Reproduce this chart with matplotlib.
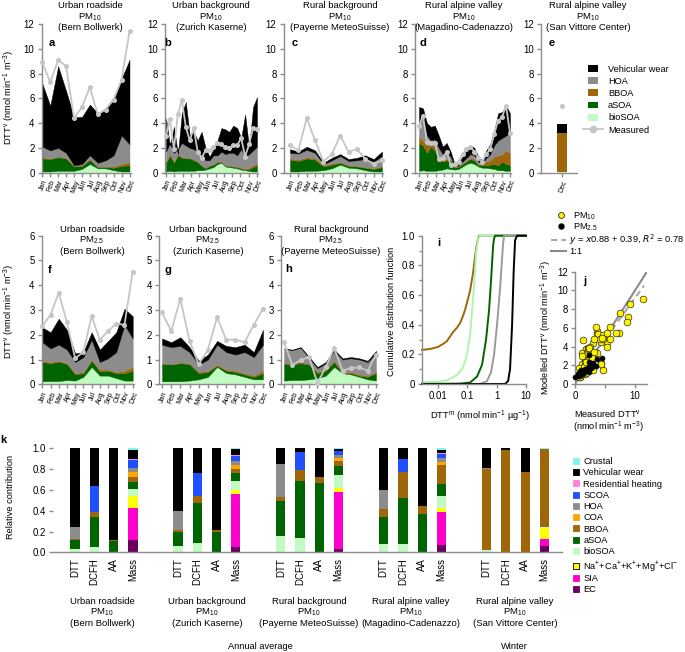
import numpy as np
import matplotlib
matplotlib.use('Agg')
import matplotlib.pyplot as plt
from matplotlib.patches import Rectangle
from matplotlib.ticker import MultipleLocator, NullLocator, FormatStrFormatter

plt.rcParams['font.family'] = ['Liberation Sans', 'DejaVu Sans']
plt.rcParams['mathtext.default'] = 'regular'
plt.rcParams['font.size'] = 6.7

W, H = 685, 652

months = ['Jan', 'Feb', 'Mar', 'Apr', 'May', 'Jun', 'Jul', 'Aug', 'Sep', 'Oct', 'Nov', 'Dec']

# ---- a-h: cumulative layer tops (bioSOA, aSOA, BBOA, HOA, vehicular wear) and measured DTTv
a_bio = [0.1, 0.1, 0.15, 0.15, 0.15, 0.3, 0.7, 0.35, 0.35, 0.2, 0.1, 0.1]
a_asoa = [1.15, 1.1, 1.25, 1.15, 0.5, 0.55, 1.05, 0.45, 0.45, 0.4, 0.55, 0.6]
a_bboa = [1.25, 1.15, 1.3, 1.2, 0.55, 0.6, 1.1, 0.5, 0.5, 0.5, 0.7, 0.85]
a_hoa = [2.1, 1.8, 2.0, 1.6, 0.6, 0.7, 1.4, 0.8, 1.0, 1.4, 3.0, 2.3]
a_veh = [7.2, 5.4, 8.6, 6.6, 4.5, 4.5, 5.5, 4.8, 5.2, 6.1, 7.6, 9.1]
a_meas = [8.9, 7.3, 9.1, 8.6, 4.4, 5.3, 6.9, 4.7, 5.1, 5.9, 7.5, 11.4]

b_bio = [0.1, 0.15, 0.1, 0.15, 0.15, 0.15, 0.15, 0.15, 0.2, 0.2, 0.25, 0.35, 0.45, 0.7, 0.8, 0.5,
         0.45, 0.4, 0.35, 0.25, 0.2, 0.15, 0.1, 0.1]
b_asoa = [0.8, 1.4, 0.8, 1.4, 1.2, 1.15, 1.15, 1.0, 0.85, 0.55, 0.35, 0.55, 0.65, 0.85, 0.85, 0.55,
          0.55, 0.5, 0.45, 0.35, 0.25, 0.3, 0.45, 0.6]
b_bboa = [0.9, 1.5, 0.9, 1.5, 1.3, 1.2, 1.2, 1.1, 0.9, 0.6, 0.4, 0.6, 0.7, 0.9, 0.9, 0.6,
          0.6, 0.5, 0.5, 0.4, 0.3, 0.4, 0.6, 0.75]
b_hoa = [1.7, 2.4, 1.6, 1.9, 2.4, 2.2, 2.0, 1.9, 1.7, 1.4, 1.0, 1.0, 1.4, 1.4, 1.7, 1.5,
         1.6, 1.6, 1.4, 1.9, 1.3, 1.5, 1.8, 2.1]
b_veh = [4.4, 2.2, 3.7, 1.5, 4.8, 5.7, 3.0, 3.3, 2.6, 3.3, 2.0, 1.3, 1.9, 2.6, 3.6, 3.5,
         3.3, 3.8, 3.6, 2.8, 4.7, 2.0, 5.3, 6.1]
b_meas = [3.0, 4.3, 1.9, 4.7, 5.9, 3.7, 2.6, 3.6, 1.7, 1.2, 1.8, 1.8, 2.1, 2.4, 2.3, 2.1,
          2.0, 2.2, 2.2, 2.8, 1.3, 2.3, 3.6, 3.5]

c_bio = [0.1, 0.1, 0.15, 0.15, 0.2, 0.35, 0.65, 0.4, 0.35, 0.2, 0.1, 0.1]
c_asoa = [1.05, 0.95, 1.15, 1.05, 0.5, 0.65, 0.8, 0.55, 0.5, 0.4, 0.3, 0.45]
c_bboa = [1.15, 1.05, 1.25, 1.15, 0.6, 0.75, 0.85, 0.6, 0.55, 0.45, 0.35, 0.55]
c_hoa = [1.6, 1.55, 1.85, 1.6, 0.7, 1.0, 1.35, 0.95, 1.0, 1.1, 0.9, 1.35]
c_veh = [1.9, 1.7, 2.1, 1.8, 0.8, 1.2, 1.5, 1.1, 1.2, 1.4, 1.1, 1.7]
c_meas = [2.2, 1.8, 4.4, 2.6, 0.9, 1.5, 3.0, 1.7, 1.9, 1.1, 0.7, 1.0]

d_bio = [0.15, 0.2, 0.15, 0.15, 0.15, 0.2, 0.25, 0.35, 0.3, 0.25, 0.3, 0.5, 0.7, 0.8, 0.7, 0.5,
         0.4, 0.4, 0.35, 0.3, 0.2, 0.2, 0.15, 0.15]
d_asoa = [2.4, 2.2, 1.6, 2.1, 1.8, 1.0, 0.9, 1.0, 1.0, 0.4, 0.5, 0.7, 0.9, 1.1, 1.0, 0.6,
          0.6, 0.6, 0.65, 0.7, 0.6, 0.9, 0.7, 0.6]
d_bboa = [2.9, 2.6, 2.2, 2.3, 2.2, 1.2, 1.1, 1.1, 1.1, 0.45, 0.55, 0.75, 1.0, 1.2, 1.1, 0.7,
          0.7, 0.9, 1.0, 1.3, 1.4, 1.5, 1.8, 1.6]
d_hoa = [4.0, 4.4, 3.0, 2.6, 2.7, 2.0, 1.5, 1.6, 1.3, 0.5, 0.6, 0.9, 1.2, 1.5, 1.4, 0.9,
         0.8, 1.2, 1.5, 2.2, 2.6, 2.8, 3.0, 3.2]
d_veh = [5.3, 5.2, 4.0, 3.7, 3.8, 3.0, 2.1, 2.4, 1.7, 0.7, 0.8, 1.3, 1.8, 2.2, 2.0, 1.3,
         1.0, 1.8, 2.3, 3.4, 4.8, 4.9, 5.4, 4.8]
d_meas = [3.8, 4.6, 2.5, 2.4, 2.4, 1.1, 1.2, 1.7, 0.6, 0.7, 0.9, 1.5, 1.9, 2.1, 1.7, 1.2,
          0.9, 1.5, 1.9, 3.1, 4.2, 4.5, 5.4, 3.2]

e_tops = [0.05, 0.07, 3.2, 3.22, 3.95]
e_meas = [5.35]

f_bio = [0.12, 0.13, 0.13, 0.17, 0.15, 0.3, 0.7, 0.35, 0.35, 0.25, 0.15, 0.15]
f_asoa = [0.9, 0.85, 0.92, 0.82, 0.4, 0.45, 0.95, 0.52, 0.55, 0.45, 0.45, 0.55]
f_bboa = [0.95, 0.9, 0.95, 0.85, 0.45, 0.5, 1.0, 0.6, 0.6, 0.5, 0.55, 0.7]
f_hoa = [1.7, 1.45, 1.6, 1.4, 0.9, 1.1, 1.8, 0.9, 1.05, 1.3, 2.4, 1.85]
f_veh = [2.3, 2.1, 2.65, 2.2, 1.25, 1.3, 2.1, 1.4, 1.75, 2.1, 3.05, 2.75]
f_meas = [2.35, 2.8, 3.7, 2.5, 1.05, 1.3, 2.75, 1.8, 2.15, 2.45, 2.4, 4.55]

g_bio = [0.12, 0.12, 0.12, 0.15, 0.2, 0.3, 0.7, 0.45, 0.4, 0.3, 0.2, 0.2]
g_asoa = [0.82, 0.8, 0.85, 0.82, 0.45, 0.5, 0.75, 0.55, 0.5, 0.4, 0.3, 0.45]
g_bboa = [0.85, 0.82, 0.88, 0.85, 0.5, 0.55, 0.8, 0.6, 0.55, 0.45, 0.35, 0.55]
g_hoa = [1.6, 1.5, 1.55, 1.3, 0.8, 1.0, 1.6, 1.3, 1.2, 1.3, 1.1, 1.6]
g_veh = [1.85, 1.7, 1.9, 1.5, 0.95, 1.2, 1.75, 1.55, 1.5, 1.6, 1.3, 2.2]
g_meas = [2.9, 2.15, 3.45, 1.75, 0.8, 1.4, 2.7, 1.8, 1.8, 1.7, 2.4, 3.05]

h_bio = [0.15, 0.17, 0.17, 0.2, 0.25, 0.35, 0.7, 0.45, 0.4, 0.3, 0.2, 0.15]
h_asoa = [0.83, 0.8, 0.85, 0.8, 0.45, 0.55, 0.9, 0.45, 0.45, 0.35, 0.3, 0.45]
h_bboa = [0.87, 0.85, 0.9, 0.82, 0.5, 0.6, 0.95, 0.5, 0.5, 0.4, 0.35, 0.5]
h_hoa = [1.45, 1.38, 1.48, 1.08, 0.65, 0.85, 1.35, 1.0, 1.05, 1.0, 0.9, 1.25]
h_veh = [1.45, 1.4, 1.5, 1.1, 0.7, 0.9, 1.4, 1.05, 1.1, 1.05, 0.95, 1.35]
h_meas = [1.7, 0.78, 0.98, 1.1, 0.05, 0.7, 1.45, 0.55, 0.65, 0.68, 0.55, 1.2]

# ---- i: cumulative distribution of DTTm per source
i_bboa_x = [0.00284, 0.00533, 0.01, 0.0148, 0.0203, 0.0325, 0.0445, 0.0564, 0.0713, 0.0836, 0.0977,
            0.124, 0.157, 0.183, 0.214, 0.251, 10]
i_bboa_y = [0.23, 0.236, 0.25, 0.27, 0.29, 0.35, 0.38, 0.41, 0.46, 0.50, 0.55, 0.63, 0.75, 0.86, 0.95, 1.0, 1.0]
i_bio_x = [0.00284, 0.01, 0.0203, 0.0445, 0.0713, 0.0977, 0.124, 0.157, 0.183, 0.198, 0.23, 0.271, 10]
i_bio_y = [0.012, 0.015, 0.025, 0.06, 0.11, 0.2, 0.33, 0.58, 0.76, 0.88, 0.97, 1.0, 1.0]
i_asoa_x = [0.00284, 0.0564, 0.124, 0.214, 0.318, 0.435, 0.551, 0.644, 0.753, 0.815, 0.881, 10]
i_asoa_y = [0.0, 0.003, 0.01, 0.05, 0.13, 0.3, 0.5, 0.7, 0.93, 0.98, 1.0, 1.0]
i_hoa_x = [0.00284, 0.271, 0.47, 0.644, 0.815, 1.03, 1.31, 1.53, 1.66, 1.79, 10]
i_hoa_y = [0.0, 0.0, 0.02, 0.08, 0.2, 0.4, 0.65, 0.85, 0.95, 1.0, 1.0]
i_veh_x = [0.00284, 1.94, 2.45, 2.86, 3.36, 3.78, 4.25, 4.97, 10]
i_veh_y = [0.0, 0.0, 0.02, 0.1, 0.4, 0.75, 0.97, 1.0, 1.0]

# ---- k: relative contributions, columns in stacking order (bottom -> top)
k_names = ['EC', 'SIA', 'Na$^{+}$+Ca$^{+}$+K$^{+}$+Mg$^{+}$+Cl$^{-}$', 'bioSOA', 'aSOA', 'BBOA', 'COA',
           'HOA', 'SCOA', 'Residential heating', 'Vehicular wear', 'Crustal']
k_bars = ['DTT', 'DCFH', 'AA', 'Mass']
k_bern = [[0, 0, 0, .03, .09, .01, 0, .11, 0, 0, .76, 0],
          [0, 0, 0, .05, .29, .05, 0, 0, .25, 0, .36, 0],
          [0, 0, 0, 0, .11, .01, 0, 0, 0, 0, .88, 0],
          [.12, .31, .11, .07, .07, .04, .05, .04, .08, .01, .08, .02]]
k_zurich = [[0, 0, 0, .06, .14, .01, 0, .19, 0, 0, .60, 0],
            [0, 0, 0, .09, .38, .07, 0, 0, .22, 0, .24, 0],
            [0, 0, 0, 0, .20, .01, 0, 0, 0, 0, .79, 0],
            [.05, .51, .04, .09, .07, .04, .04, .04, .05, .01, .05, .01]]
k_payerne = [[0, 0, 0, .16, .33, .04, 0, .32, 0, 0, .15, 0],
             [0, 0, 0, .14, .55, .10, 0, 0, .17, 0, .04, 0],
             [0, 0, 0, 0, .67, .05, 0, 0, 0, 0, .28, 0],
             [.03, .55, .04, .12, .09, .05, .03, .03, .03, .005, .015, .01]]
k_magadino = [[0, 0, 0, .08, .26, .08, 0, .18, 0, 0, .40, 0],
              [0, 0, 0, .08, .44, .25, 0, 0, .13, 0, .10, 0],
              [0, 0, 0, 0, .37, .08, 0, 0, 0, 0, .55, 0],
              [.07, .32, .04, .11, .12, .18, .03, .04, .04, .005, .025, .02]]
k_vittore = [[0, 0, 0, .02, 0, .78, 0, .01, 0, 0, .19, 0],
             [0, 0, 0, 0, 0, .98, 0, 0, 0, 0, .02, 0],
             [0, 0, 0, 0, 0, .77, 0, 0, 0, 0, .23, 0],
             [.06, .07, .10, .01, 0, .75, 0, 0, 0, 0, 0, .01]]
k_sites = [k_bern, k_zurich, k_payerne, k_magadino, k_vittore]
k_site_names = [('Urban roadside', 'PM$_{10}$', '(Bern Bollwerk)'),
                ('Urban background', 'PM$_{10}$', '(Zurich Kaserne)'),
                ('Rural background', 'PM$_{10}$', '(Payerne MeteoSuisse)'),
                ('Rural alpine valley', 'PM$_{10}$', '(Magadino-Cadenazzo)'),
                ('Rural alpine valley', 'PM$_{10}$', '(San Vittore Center)')]

# colours
grey = '#8c8c8c'
col_veh, col_hoa, col_bboa, col_asoa, col_bio = 'black', '#8c8c8c', '#a0660a', '#006400', '#c2fbc2'
col_meas = '#c6c6c6'
layer_cols = [col_bio, col_asoa, col_bboa, col_hoa, col_veh]
k_cols = ['#69005f', '#ff00cc', '#ffff00', col_bio, col_asoa, col_bboa, '#ffa500', col_hoa, '#1f4fff',
          '#ff80dc', col_veh, '#80f5f5']

fig = plt.figure(figsize=(6.85, 6.52), dpi=100)


def rect(l, t, r, b):
    return [l / W, 1 - b / H, (r - l) / W, (b - t) / H]


def style(ax):
    for s in ['top', 'right']:
        ax.spines[s].set_visible(False)
    for s in ['left', 'bottom']:
        ax.spines[s].set_color(grey)
        ax.spines[s].set_linewidth(1.0)
    ax.tick_params(color=grey, width=1.0, length=3, labelsize=6.9, pad=2)


def month_panel(S, J, D, t, b, tops, meas, ymax):
    ax = fig.add_axes(rect(S, t, D + 1, b))
    style(ax)
    step = (D - J) / 11
    n = len(meas)
    x = np.linspace(0, 11, n)
    lower = np.zeros(n)
    for top, c in zip(tops, layer_cols):
        top = np.array(top)
        ax.fill_between(x, lower, top, color=c, lw=0.3)
        lower = top
    ax.plot(x, meas, '-o', color=col_meas, lw=1.3, ms=2.6, clip_on=False, zorder=5)
    ax.set_xlim((S - J) / step, (D + 1 - J) / step)
    ax.set_ylim(0, ymax)
    ax.set_xticks(range(12))
    ax.set_xticklabels(months, rotation=70, ha='right', rotation_mode='anchor', fontsize=5)
    ax.tick_params(axis='x', pad=1.5)
    ax.yaxis.set_major_locator(MultipleLocator(2 if ymax == 12 else 1))
    return ax


month_panel(41.5, 42.3, 129.5, 24, 172.7, [a_bio, a_asoa, a_bboa, a_hoa, a_veh], a_meas, 12)
month_panel(165, 166, 257, 24, 172.7, [b_bio, b_asoa, b_bboa, b_hoa, b_veh], b_meas, 12)
month_panel(283.5, 290, 382, 24, 172.7, [c_bio, c_asoa, c_bboa, c_hoa, c_veh], c_meas, 12)
month_panel(415, 419, 510, 24, 172.7, [d_bio, d_asoa, d_bboa, d_hoa, d_veh], d_meas, 12)
month_panel(41.5, 42.3, 132.7, 235.7, 384.3, [f_bio, f_asoa, f_bboa, f_hoa, f_veh], f_meas, 6)
month_panel(159, 162, 263, 235.7, 384.3, [g_bio, g_asoa, g_bboa, g_hoa, g_veh], g_meas, 6)
month_panel(281, 284, 376, 235.7, 384.3, [h_bio, h_asoa, h_bboa, h_hoa, h_veh], h_meas, 6)

# e: single winter bar
axe = fig.add_axes(rect(541, 24, 577, 172.7))
style(axe)
lower = 0
for top, c in zip(e_tops, layer_cols):
    axe.bar(0, top - lower, 1.0, bottom=lower, color=c, lw=0)
    lower = top
axe.plot([0], e_meas, 'o', color=col_meas, ms=2.6)
axe.set_xlim(-2.1, 1.5)
axe.set_ylim(0, 12)
axe.set_xticks([0])
axe.set_xticklabels(['Dec'], rotation=70, ha='right', rotation_mode='anchor', fontsize=5)
axe.yaxis.set_major_locator(MultipleLocator(2))

# i: cumulative distributions
axi = fig.add_axes(rect(421.7, 235.7, 526, 384))
style(axi)
for xs, ys, c in [(i_bboa_x, i_bboa_y, col_bboa), (i_bio_x, i_bio_y, '#aef5ae'),
                  (i_asoa_x, i_asoa_y, col_asoa), (i_hoa_x, i_hoa_y, '#9a9a9a'),
                  (i_veh_x, i_veh_y, col_veh)]:
    axi.plot(xs, ys, color=c, lw=1.4, clip_on=False)
axi.set_xscale('log')
axi.set_xlim(10 ** -2.556, 10)
axi.set_ylim(0, 1)
axi.set_xticks([0.01, 0.1, 1, 10])
axi.set_xticklabels(['0.01', '0.1', '1', '10'])
axi.xaxis.set_minor_locator(NullLocator())
axi.set_yticks([0, 0.2, 0.4, 0.6, 0.8, 1.0])
axi.set_yticklabels(['0', '0.2', '0.4', '0.6', '0.8', '1.0'])
axi.yaxis.set_minor_locator(MultipleLocator(0.1))
axi.tick_params(which='minor', color=grey, width=1.0, length=2)

# j: modelled vs measured
j_pm10_meas = a_meas + b_meas + c_meas + d_meas + e_meas
j_pm10_mod = a_veh + b_veh + c_veh + d_veh + [e_tops[-1]]
j_pm25_meas = f_meas + g_meas + h_meas
j_pm25_mod = f_veh + g_veh + h_veh
fit_slope, fit_icpt = 0.88, 0.39
axj = fig.add_axes(rect(575, 271.7, 647, 384))
style(axj)
lim = np.array([0, 12])
axj.plot(lim, lim, color='#8a8a8a', lw=1.5, zorder=1)
fx = np.array([0, 11.5])
axj.plot(fx, fit_slope * fx + fit_icpt, color='#a8a8a8', lw=1.5, dashes=(3, 2), zorder=1)
axj.scatter(j_pm10_meas, j_pm10_mod, s=24, facecolor='#fff200', edgecolor='black', lw=0.4,
            zorder=2, clip_on=False)
axj.scatter(j_pm25_meas, j_pm25_mod, s=14, facecolor='black', edgecolor='black', lw=0.3,
            zorder=3, clip_on=False)
axj.set_xlim(0, 12)
axj.set_ylim(0, 12)
axj.set_xticks([0, 10])
axj.xaxis.set_minor_locator(MultipleLocator(5))
axj.yaxis.set_major_locator(MultipleLocator(2))
axj.tick_params(which='minor', color=grey, width=1.0, length=3)

# k: relative contributions
axk = fig.add_axes(rect(53, 448.3, 562, 552.3))
style(axk)
axk.spines['left'].set_visible(False)
positions, labels = [], []
for g, site in enumerate(k_sites):
    for i, fr in enumerate(site):
        pos = g * 5.33 + i
        positions.append(pos)
        labels.append(k_bars[i])
        bottom = 0
        for v, c in zip(fr, k_cols):
            if v > 0:
                axk.bar(pos, v, 0.48, bottom=bottom, color=c, lw=0)
            bottom += v
axk.set_xlim(-1.14, 25.23)
axk.set_ylim(0, 1)
axk.set_xticks(positions)
axk.set_xticklabels(labels, rotation=90)
axk.tick_params(axis='x', length=0, pad=4)
axk.yaxis.set_major_locator(MultipleLocator(0.2))
axk.yaxis.set_major_formatter(FormatStrFormatter('%.1f'))

# ---- overlay in pixel coordinates for titles, letters and legends
ov = fig.add_axes([0, 0, 1, 1], zorder=10)
ov.set_xlim(0, W)
ov.set_ylim(H, 0)
ov.axis('off')
ov.patch.set_alpha(0)


def title3(x, y0, lines):
    for n, s in enumerate(lines):
        ov.text(x, y0 + 11 * n, s, ha='center', va='baseline', fontsize=6.8)


title3(90, 8.3, ('Urban roadside', 'PM$_{10}$', '(Bern Bollwerk)'))
title3(211, 8.3, ('Urban background', 'PM$_{10}$', '(Zurich Kaserne)'))
title3(340, 8.3, ('Rural background', 'PM$_{10}$', '(Payerne MeteoSuisse)'))
title3(464, 8.3, ('Rural alpine valley', 'PM$_{10}$', '(Magadino-Cadenazzo)'))
title3(588, 8.3, ('Rural alpine valley', 'PM$_{10}$', '(San Vittore Center)'))
title3(92, 231.7, ('Urban roadside', 'PM$_{2.5}$', '(Bern Bollwerk)'))
title3(208, 231.7, ('Urban background', 'PM$_{2.5}$', '(Zurich Kaserne)'))
title3(331, 231.7, ('Rural background', 'PM$_{2.5}$', '(Payerne MeteoSuisse)'))
for (cx, names) in zip([102, 207, 309, 411, 515], k_site_names):
    title3(cx, 604, names)
ov.text(260, 649, 'Annual average', ha='center', va='baseline')
ov.text(514, 649, 'Winter', ha='center', va='baseline')

for s, x, y in [('a', 52, 43), ('b', 168, 43), ('c', 295, 43), ('d', 423, 43), ('e', 552, 43),
                ('f', 50, 270), ('g', 168, 270), ('h', 289, 269), ('i', 439, 243), ('j', 585, 281),
                ('k', 3, 440)]:
    ov.text(x, y, s, ha='center', va='center', fontsize=8, fontweight='bold')

dttv = 'DTT$^{v}$ (nmol min$^{-1}$ m$^{-3}$)'
ov.text(9, 97, dttv, rotation=90, ha='center', va='center')
ov.text(9, 311, dttv, rotation=90, ha='center', va='center')
ov.text(392, 311, 'Cumulative distribution function', rotation=90, ha='center', va='center')
ov.text(546, 327, 'Modelled ' + dttv, rotation=90, ha='center', va='center')
ov.text(11, 497, 'Relative contribution', rotation=90, ha='center', va='center')
ov.text(480, 419, 'DTT$^{m}$ (nmol min$^{-1}$ µg$^{-1}$)', ha='center', va='baseline')
ov.text(608, 418, 'Measured DTT$^{v}$', ha='center', va='baseline')
ov.text(608, 430, '(nmol min$^{-1}$ m$^{-3}$)', ha='center', va='baseline')

# legend a-e
leg1 = [('Vehicular wear', col_veh), ('HOA', col_hoa), ('BBOA', col_bboa), ('aSOA', col_asoa),
        ('bioSOA', col_bio)]
for n, (s, c) in enumerate(leg1):
    y = 68.3 + 12.2 * n
    ov.add_patch(Rectangle((588, y - 3.4), 10, 6.8, color=c, lw=0))
    ov.text(608, y + 3.3, s, va='baseline')
ov.plot([583, 603], [129.3, 129.3], color=col_meas, lw=1.3)
ov.plot([593], [129.3], 'o', color=col_meas, ms=4.5)
ov.text(608, 132.6, 'Measured', va='baseline')

# legend j
ov.plot([560.7], [215], 'o', ms=4.2, mfc='#fff200', mec='black', mew=0.5)
ov.text(572.7, 218, 'PM$_{10}$', va='baseline')
ov.plot([560.7], [226], 'o', ms=3.6, mfc='black', mec='black')
ov.text(572.7, 229.5, 'PM$_{2.5}$', va='baseline')
ov.plot([551, 566], [240, 240], color='#a8a8a8', lw=1.5, dashes=(3, 2))
ov.text(569, 243.3, r'$\it{y}$ = $\it{x}$0.88 + 0.39, $\it{R}^{2}$ = 0.78', va='baseline')
ov.plot([551, 566], [250.5, 250.5], color='#8a8a8a', lw=1.5)
ov.text(569, 253.8, '1:1', va='baseline')

# legend k (top -> bottom)
leg_rows = [460.7, 472, 483.3, 494.5, 505.8, 517, 528.2, 539.5, 550.8, 566, 577.5, 589]
leg_order = list(range(11, 2, -1)) + [2, 1, 0]
for y, idx in zip(leg_rows, leg_order):
    ec = 'black' if idx == 2 else k_cols[idx]
    ov.add_patch(Rectangle((573.3, y - 3), 6, 6, facecolor=k_cols[idx], edgecolor=ec, lw=0.6))
    ov.text(583.3, y + 3.3, k_names[idx], va='baseline')

fig.savefig('out.png', dpi=100)
